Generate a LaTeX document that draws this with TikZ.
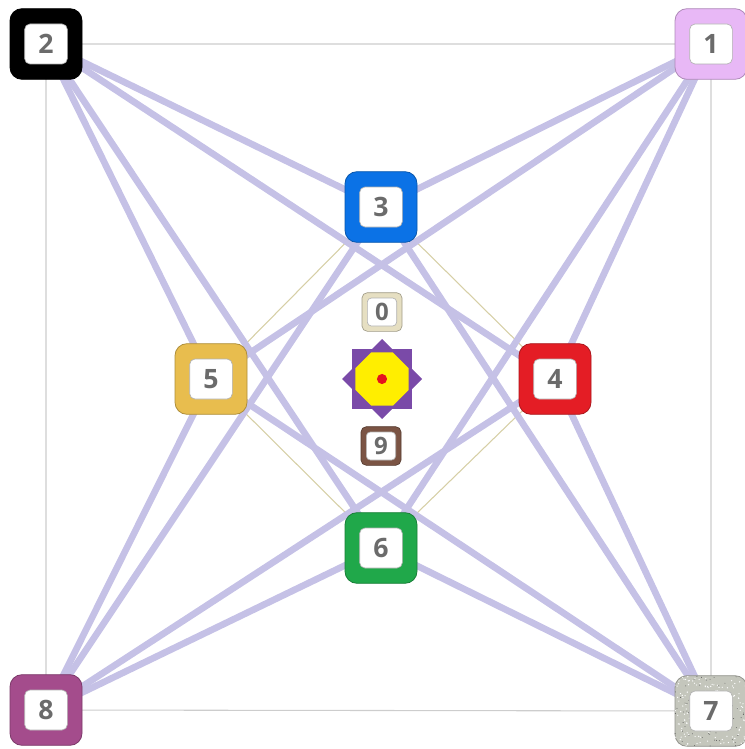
\documentclass[tikz,border=0pt]{standalone}
\usepackage{fontspec}
\setmainfont{Open Sans}
\usetikzlibrary{backgrounds,calc}
\definecolor{lav}{HTML}{C5C1E6}
\definecolor{rimgray}{HTML}{CDCDCD}
\definecolor{khaki}{HTML}{D6CFA6}
\definecolor{digit}{HTML}{6B6B6B}
\definecolor{cone}{HTML}{E8B8F6}
\definecolor{ctwo}{HTML}{000000}
\definecolor{cthree}{HTML}{0B72E6}
\definecolor{cfour}{HTML}{E41D25}
\definecolor{cfive}{HTML}{E8BD4E}
\definecolor{csix}{HTML}{20A84A}
\definecolor{cseven}{HTML}{C4C6BC}
\definecolor{ceight}{HTML}{A44C8C}
\definecolor{czero}{HTML}{E6DFC2}
\definecolor{cnine}{HTML}{7B5444}
\definecolor{starpurple}{HTML}{7A4AA8}
\definecolor{staryellow}{HTML}{FFEE00}
\definecolor{starred}{HTML}{E5131E}
\begin{document}
\begin{tikzpicture}[x=0.75pt,y=-0.75pt,
  outerbox/.style={draw=#1!75!black, fill=#1, rounded corners=9pt,
    minimum width=54pt, minimum height=53pt, line width=0.6pt, inner sep=0pt},
  innerbox/.style={draw=gray!60, fill=white, rounded corners=4pt,
    minimum width=32pt, minimum height=30pt, inner sep=0pt, line width=0.5pt,
    font=\fontsize{20}{20}\selectfont\bfseries, text=digit},
  smallouter/.style={draw=#1!70!black, fill=#1, rounded corners=4pt,
    minimum width=30pt, minimum height=29pt, line width=0.5pt, inner sep=0pt},
  smallinner/.style={draw=gray!60, fill=white, rounded corners=3pt,
    minimum width=22pt, minimum height=21pt, inner sep=0pt, line width=0.5pt,
    font=\fontsize{18}{18}\selectfont\bfseries, text=digit},
  bigedge/.style={lav, line width=5pt},
  thinedge/.style={khaki, line width=0.8pt},
  rimedge/.style={rimgray, line width=0.8pt}]
\useasboundingbox (0,0) rectangle (745,749);

% corner and middle boxes
\node[outerbox=ctwo] (o2) at (46,44) {};
\node[innerbox] (n2) at (o2) {2};
\node[outerbox=cone] (o1) at (711,44) {};
\node[innerbox] (n1) at (o1) {1};
\node[outerbox=ceight] (o8) at (46,710) {};
\node[innerbox] (n8) at (o8) {8};
\node[outerbox=cseven] (o7) at (711,711) {};
\begin{scope}
  \clip[rounded corners=9pt] (o7.south west) rectangle (o7.north east);
  \pgfmathsetseed{7}
  \foreach \i in {1,...,160}{
    \fill[white] ({675+72*rnd},{676+70*rnd}) circle (0.5pt);
  }
  \foreach \i in {1,...,90}{
    \fill[gray!70!black] ({675+72*rnd},{676+70*rnd}) circle (0.35pt);
  }
\end{scope}
\node[innerbox] (n7) at (o7) {7};

\node[outerbox=cthree] (o3) at (381,207) {};
\node[innerbox] (n3) at (o3) {3};
\node[outerbox=cfive] (o5) at (211,379) {};
\node[innerbox] (n5) at (o5) {5};
\node[outerbox=cfour] (o4) at (555,379) {};
\node[innerbox] (n4) at (o4) {4};
\node[outerbox=csix] (o6) at (381,548) {};
\node[innerbox] (n6) at (o6) {6};

% small boxes
\node[smallouter=czero] (o0) at (382,312) {};
\node[smallinner] (n0) at (o0) {0};
\node[smallouter=cnine] (o9) at (381,446) {};
\node[smallinner] (n9) at (o9) {9};

% central star
\coordinate (ctr) at (382,379);
\fill[starpurple] (352,349) rectangle (412,409);
\fill[starpurple] (382,339) -- (422,379) -- (382,419) -- (342,379) -- cycle;
\fill[staryellow] ($(ctr)+(22.5:28.7)$) -- ($(ctr)+(67.5:28.7)$) -- ($(ctr)+(112.5:28.7)$) -- ($(ctr)+(157.5:28.7)$) -- ($(ctr)+(202.5:28.7)$) -- ($(ctr)+(247.5:28.7)$) -- ($(ctr)+(292.5:28.7)$) -- ($(ctr)+(337.5:28.7)$) -- cycle;
\fill[starred] (ctr) circle (3.8pt);

\begin{pgfonlayer}{background}
  \draw[rimedge] (n2.center) -- (n1.center) -- (n7.center) -- (n8.center) -- cycle;
  \draw[thinedge] (n3.center) -- (n4.center) -- (n6.center) -- (n5.center) -- cycle;
  \foreach \c in {1,2,7,8}{
    \foreach \m in {3,4,5,6}{
      \draw[bigedge] (n\c.center) -- (n\m.center);
    }
  }
\end{pgfonlayer}
\end{tikzpicture}
\end{document}
